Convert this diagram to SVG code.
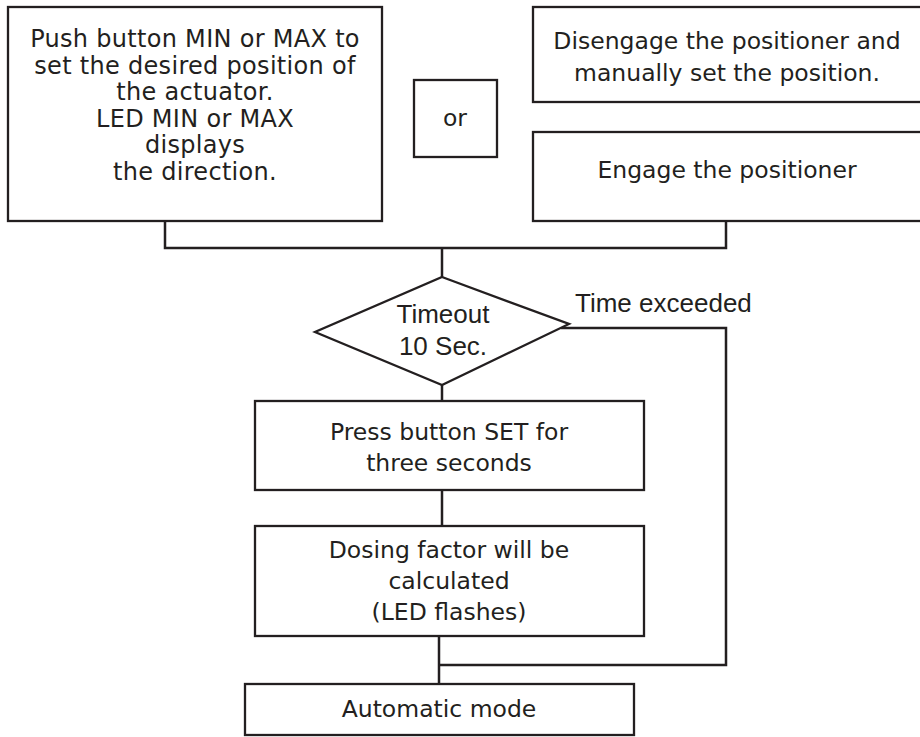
<svg xmlns="http://www.w3.org/2000/svg" width="920" height="737" viewBox="0 0 920 737">
<style>
  .box{fill:#fff;stroke:#231f20;stroke-width:2.3}
  .ln{fill:none;stroke:#231f20;stroke-width:2.5}
  .t{font-family:"DejaVu Sans",sans-serif;font-size:23.5px;fill:#231f20;text-anchor:middle}
  .tl{font-family:"DejaVu Sans",sans-serif;font-size:24px;letter-spacing:0.3px;fill:#231f20;text-anchor:middle}
  .a{font-family:"Liberation Sans",Arial,sans-serif;font-size:26px;fill:#231f20}
</style>
<rect width="920" height="737" fill="#fff"/>
<g id="connectors">
  <polyline class="ln" points="165,221 165,248 726,248 726,221"/>
  <line class="ln" x1="442" y1="248" x2="442" y2="277"/>
  <line class="ln" x1="442" y1="385" x2="442" y2="401"/>
  <line class="ln" x1="442" y1="490" x2="442" y2="526"/>
  <line class="ln" x1="439" y1="636" x2="439" y2="684"/>
  <polyline class="ln" points="561,328 726,328 726,665 439,665"/>
</g>
<g id="n_push">
  <rect class="box" x="8" y="7" width="374" height="214"/>
  <text class="tl" x="195" y="47">Push button MIN or MAX to</text>
  <text class="tl" x="195" y="73.6">set the desired position of</text>
  <text class="tl" x="195" y="100.2">the actuator.</text>
  <text class="tl" x="195" y="126.8">LED MIN or MAX</text>
  <text class="tl" x="195" y="153.4">displays</text>
  <text class="tl" x="195" y="180">the direction.</text>
</g>
<g id="n_or">
  <rect class="box" x="414" y="80" width="83" height="77"/>
  <text class="t" x="455" y="126">or</text>
</g>
<g id="n_disengage">
  <rect class="box" x="533" y="7" width="390" height="95"/>
  <text class="t" x="727" y="49">Disengage the positioner and</text>
  <text class="t" x="727" y="81">manually set the position.</text>
</g>
<g id="n_engage">
  <rect class="box" x="533" y="132" width="390" height="89"/>
  <text class="t" x="727" y="178">Engage the positioner</text>
</g>
<g id="n_timeout">
  <polygon class="box" points="442,277 569,324 442,385 315,332"/>
  <text class="a" x="443" y="323" text-anchor="middle">Timeout</text>
  <text class="a" x="443" y="355" text-anchor="middle">10 Sec.</text>
</g>
<text class="a" x="575" y="312">Time exceeded</text>
<g id="n_press">
  <rect class="box" x="255" y="401" width="389" height="89"/>
  <text class="t" x="449" y="440">Press button SET for</text>
  <text class="t" x="449" y="471">three seconds</text>
</g>
<g id="n_dosing">
  <rect class="box" x="255" y="526" width="389" height="110"/>
  <text class="t" x="449" y="558">Dosing factor will be</text>
  <text class="t" x="449" y="589">calculated</text>
  <text class="t" x="449" y="620">(LED flashes)</text>
</g>
<g id="n_auto">
  <rect class="box" x="245" y="684" width="389" height="51"/>
  <text class="t" x="439" y="717">Automatic mode</text>
</g>
</svg>
